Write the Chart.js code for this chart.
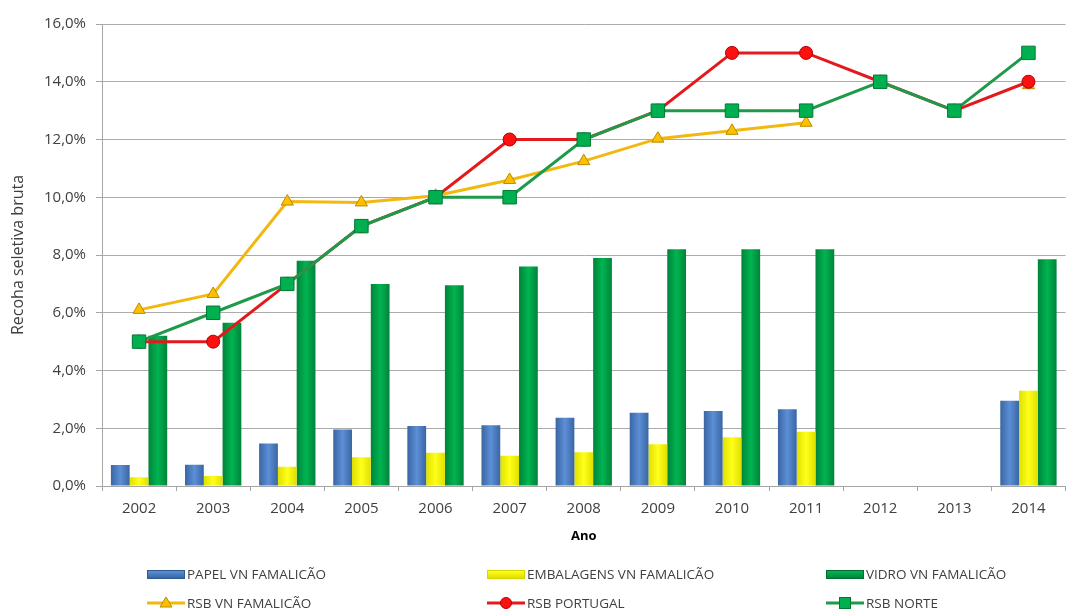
<!DOCTYPE html>
<html>
<head>
<meta charset="utf-8">
<script src="https://cdn.jsdelivr.net/npm/chart.js@4.4.1/dist/chart.umd.min.js"></script>
<style>
  html, body { margin: 0; padding: 0; background: #fff; }
  #wrap { position: relative; width: 1076px; height: 615px; overflow: hidden; }
  #c { position: absolute; left: 0; top: 0; }
  .leg { position: absolute; display: flex; align-items: center; font-family: 'Open Sans', sans-serif; font-size: 13.5px; color: #404040; white-space: nowrap; }
  .sw { width: 38px; height: 9px; margin-right: 2px; box-sizing: border-box; }
  .ln { width: 38px; height: 16px; margin-right: 2px; }
</style>
</head>
<body>
<div id="wrap">
  <canvas id="c" width="1076" height="615"></canvas>
</div>
<script>
// ---------------- DATA ----------------
const years = ['2002','2003','2004','2005','2006','2007','2008','2009','2010','2011','2012','2013','2014'];
const papelVNF      = [0.73, 0.74, 1.47, 1.96, 2.08, 2.10, 2.36, 2.54, 2.60, 2.66, null, null, 2.95];
const embalagensVNF = [0.30, 0.35, 0.67, 1.00, 1.15, 1.05, 1.17, 1.45, 1.69, 1.88, null, null, 3.30];
const vidroVNF      = [5.20, 5.65, 7.80, 7.00, 6.95, 7.60, 7.90, 8.20, 8.20, 8.20, null, null, 7.85];
const rsbVNF        = [6.10, 6.65, 9.85, 9.82, 10.05, 10.60, 11.25, 12.03, 12.30, 12.58, null, null, 13.88];
const rsbPortugal   = [5, 5, 7, 9, 10, 12, 12, 13, 15, 15, 14, 13, 14];
const rsbNorte      = [5, 6, 7, 9, 10, 10, 12, 13, 13, 13, 14, 13, 15];
const yTickLabels   = ['0,0%','2,0%','4,0%','6,0%','8,0%','10,0%','12,0%','14,0%','16,0%'];
const seriesNames   = ['PAPEL VN FAMALICÃO','EMBALAGENS VN FAMALICÃO','VIDRO VN FAMALICÃO','RSB VN FAMALICÃO','RSB PORTUGAL','RSB NORTE'];
const yTitle = 'Recoha seletiva bruta';
const xTitle = 'Ano';

// ---------------- STYLE ----------------
const FONT = "'Open Sans', sans-serif";
const barGrad = {
  papel: ['#3A66A2', '#5C8FD6', '#3A66A2'],
  emb:   ['#E0E000', '#FFFF1A', '#E0E000'],
  vidro: ['#00843A', '#00B451', '#00843A']
};
const lineStyle = {
  vnf:   { line: '#F2B80F', fill: '#FFC000', border: '#B88A00' },
  port:  { line: '#E3191C', fill: '#FF1010', border: '#B00000' },
  norte: { line: '#1E9A4A', fill: '#00B050', border: '#007A33' }
};

const barGradientPlugin = {
  id: 'barGradient',
  beforeDatasetDraw(chart, args) {
    const meta = args.meta;
    if (meta.type !== 'bar') return;
    const stops = chart.data.datasets[args.index]._grad;
    if (!stops) return;
    const ctx = chart.ctx;
    meta.data.forEach((el, i) => {
      const v = chart.data.datasets[args.index].data[i];
      if (v == null || !isFinite(el.x) || !isFinite(el.width) || el.width <= 0) return;
      const x0 = el.x - el.width / 2, x1 = el.x + el.width / 2;
      const g = ctx.createLinearGradient(x0, 0, x1, 0);
      g.addColorStop(0, stops[0]);
      g.addColorStop(0.5, stops[1]);
      g.addColorStop(1, stops[2]);
      el.options = Object.assign({}, el.options, { backgroundColor: g });
    });
  }
};

const barCommon = { type: 'bar', categoryPercentage: 0.76, barPercentage: 1.0, borderWidth: 0 };
const lineCommon = { type: 'line', borderWidth: 3, tension: 0, spanGaps: false, pointBorderWidth: 1 };

const datasets = [
  Object.assign({}, barCommon, { label: seriesNames[0], data: papelVNF, backgroundColor: barGrad.papel[1], _grad: barGrad.papel, order: 3 }),
  Object.assign({}, barCommon, { label: seriesNames[1], data: embalagensVNF, backgroundColor: barGrad.emb[1], _grad: barGrad.emb, order: 4 }),
  Object.assign({}, barCommon, { label: seriesNames[2], data: vidroVNF, backgroundColor: barGrad.vidro[1], _grad: barGrad.vidro, order: 5 }),
  Object.assign({}, lineCommon, { label: seriesNames[3], data: rsbVNF, borderColor: lineStyle.vnf.line, backgroundColor: lineStyle.vnf.fill,
      pointStyle: 'triangle', pointRadius: 7, pointBackgroundColor: lineStyle.vnf.fill, pointBorderColor: lineStyle.vnf.border, order: 2 }),
  Object.assign({}, lineCommon, { label: seriesNames[4], data: rsbPortugal, borderColor: lineStyle.port.line, backgroundColor: lineStyle.port.fill,
      pointStyle: 'circle', pointRadius: 6.5, pointBackgroundColor: lineStyle.port.fill, pointBorderColor: lineStyle.port.border, order: 1 }),
  Object.assign({}, lineCommon, { label: seriesNames[5], data: rsbNorte, borderColor: lineStyle.norte.line, backgroundColor: lineStyle.norte.fill,
      pointStyle: 'rect', pointRadius: 9.5, pointBackgroundColor: lineStyle.norte.fill, pointBorderColor: lineStyle.norte.border, order: 0 })
];

new Chart(document.getElementById('c'), {
  data: { labels: years, datasets },
  plugins: [barGradientPlugin],
  options: {
    responsive: false,
    animation: false,
    events: [],
    layout: { padding: { top: 24, left: 0, right: 0, bottom: 69 } },
    plugins: { legend: { display: false }, tooltip: { enabled: false } },
    scales: {
      x: {
        type: 'category',
        offset: true,
        afterFit(s) { s.height = 60; },
        grid: { display: true, drawOnChartArea: false, drawTicks: true, tickLength: 5, tickColor: '#A6A6A6', offset: true },
        border: { display: true, color: '#A6A6A6', width: 1 },
        ticks: { color: '#404040', font: { family: FONT, size: 15 }, padding: 9, maxRotation: 0 },
        title: { display: true, text: xTitle, color: '#000', font: { family: FONT, size: 13, weight: 'bold' }, padding: { top: 0, bottom: 2 } }
      },
      y: {
        min: 0, max: 16,
        afterFit(s) { s.width = 102; },
        ticks: { stepSize: 2, color: '#404040', font: { family: FONT, size: 15 }, padding: 10,
                 callback: (v) => yTickLabels[Math.round(v / 2)] },
        grid: { color: '#ABABAB', lineWidth: 1, borderDash: [2, 3], drawTicks: true, tickLength: 6, tickColor: '#A6A6A6', tickBorderDash: [] },
        border: { display: true, color: '#A6A6A6', width: 1, dash: [] },
        title: { display: true, text: yTitle, color: '#404040', font: { family: FONT, size: 16 }, padding: { top: 9, bottom: 0 } }
      }
    }
  }
});

// ---------------- HTML LEGEND ----------------
const legendItems = [
  { name: seriesNames[0], kind: 'bar', grad: barGrad.papel, border: '#2F5A92', x: 147, y: 574 },
  { name: seriesNames[1], kind: 'bar', grad: barGrad.emb, border: '#D6D600', x: 487, y: 574 },
  { name: seriesNames[2], kind: 'bar', grad: barGrad.vidro, border: '#00702F', x: 826, y: 574 },
  { name: seriesNames[3], kind: 'line', st: lineStyle.vnf, marker: 'tri', x: 147, y: 603 },
  { name: seriesNames[4], kind: 'line', st: lineStyle.port, marker: 'circ', x: 487, y: 603 },
  { name: seriesNames[5], kind: 'line', st: lineStyle.norte, marker: 'rect', x: 826, y: 603 }
];
const wrap = document.getElementById('wrap');
legendItems.forEach(it => {
  const d = document.createElement('div');
  d.className = 'leg';
  d.style.left = it.x + 'px';
  d.style.top = (it.y - 10) + 'px';
  d.style.height = '20px';
  let sym;
  if (it.kind === 'bar') {
    sym = document.createElement('div');
    sym.className = 'sw';
    sym.style.background = `linear-gradient(to bottom, ${it.grad[1]}, ${it.grad[0]})`;
    sym.style.border = `1px solid ${it.border}`;
  } else {
    const ns = 'http://www.w3.org/2000/svg';
    sym = document.createElementNS(ns, 'svg');
    sym.setAttribute('class', 'ln');
    sym.setAttribute('width', '38'); sym.setAttribute('height', '16');
    const l = document.createElementNS(ns, 'line');
    l.setAttribute('x1', '0'); l.setAttribute('x2', '38'); l.setAttribute('y1', '8'); l.setAttribute('y2', '8');
    l.setAttribute('stroke', it.st.line); l.setAttribute('stroke-width', '3');
    sym.appendChild(l);
    let m;
    if (it.marker === 'tri') {
      m = document.createElementNS(ns, 'polygon');
      m.setAttribute('points', '19,2 25,12 13,12');
    } else if (it.marker === 'circ') {
      m = document.createElementNS(ns, 'circle');
      m.setAttribute('cx', '19'); m.setAttribute('cy', '8'); m.setAttribute('r', '5.5');
    } else {
      m = document.createElementNS(ns, 'rect');
      m.setAttribute('x', '13.5'); m.setAttribute('y', '2.5'); m.setAttribute('width', '11'); m.setAttribute('height', '11');
    }
    m.setAttribute('fill', it.st.fill); m.setAttribute('stroke', it.st.border); m.setAttribute('stroke-width', '1');
    sym.appendChild(m);
    sym.style.marginRight = '2px';
  }
  d.appendChild(sym);
  const t = document.createElement('span');
  t.textContent = it.name;
  d.appendChild(t);
  wrap.appendChild(d);
});
</script>
</body>
</html>
